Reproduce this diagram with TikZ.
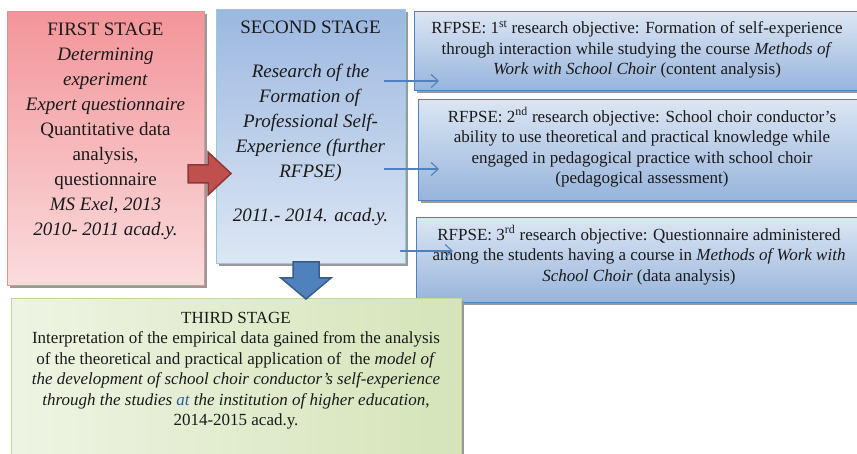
\documentclass[tikz,border=0pt]{standalone}
\usepackage{fontspec}
\setmainfont{Liberation Serif}
\usetikzlibrary{shadows,arrows.meta}
\definecolor{pinktop}{HTML}{F3959A}
\definecolor{pinkbot}{HTML}{FADCDD}
\definecolor{pinkline}{HTML}{D99594}
\definecolor{bluetop}{HTML}{9CB8E0}
\definecolor{bluebot}{HTML}{DDE7F4}
\definecolor{cyanline}{HTML}{93CDDD}
\definecolor{objtop}{HTML}{DCE6F3}
\definecolor{objbot}{HTML}{97B4DC}
\definecolor{objline}{HTML}{4F81BD}
\definecolor{greenleft}{HTML}{EEF4E3}
\definecolor{greenright}{HTML}{D5E4B9}
\definecolor{greenline}{HTML}{C3D69B}
\definecolor{arrowred}{HTML}{C0504D}
\definecolor{arrowreddark}{HTML}{8C3836}
\definecolor{arrowblue}{HTML}{4F81BD}
\definecolor{arrowbluedark}{HTML}{385D8A}
\definecolor{atblue}{HTML}{2E5C9A}
\definecolor{textgray}{HTML}{1A1A1A}

\begin{document}
\begin{tikzpicture}[x=1pt,y=-1pt,
    box/.style={anchor=north west,inner sep=0pt,line width=1.2pt,
      drop shadow={shadow xshift=2pt,shadow yshift=-2.5pt,fill=black!40,opacity=1}},
    wide/.style={font=\fontsize{19}{25}\selectfont,text=textgray,align=center,anchor=north,inner sep=0pt},
    narrow/.style={font=\fontsize{17}{20.5}\selectfont,text=textgray,align=center,anchor=north,inner sep=0pt},
    objarrow/.style={draw=arrowblue,line width=1.1pt,-{Straight Barb[length=7pt,width=13pt,line width=1.1pt]}}]
\useasboundingbox (0,0) rectangle (857,454);
\node[box,draw=pinkline,top color=pinktop,bottom color=pinkbot,minimum width=197pt,minimum height=274pt] (first) at (7,11) {};
\node[box,draw=cyanline,top color=bluetop,bottom color=bluebot,minimum width=189pt,minimum height=254pt] (second) at (216,9) {};
\node[box,draw=objline,top color=objtop,bottom color=objbot,minimum width=446pt,minimum height=79pt] (obj1) at (414,11) {};
\node[box,draw=objline,top color=objtop,bottom color=objbot,minimum width=447pt,minimum height=101pt] (obj2) at (418,99) {};
\node[box,draw=objline,top color=objtop,bottom color=objbot,minimum width=446pt,minimum height=85pt] (obj3) at (416,217) {};
\node[box,draw=greenline,left color=greenleft,right color=greenright,minimum width=450pt,minimum height=170pt] (third) at (11,298) {};

\node[wide] (firsttext) at (105.5,22.4) {FIRST STAGE\\ \textit{Determining}\\ \textit{experiment}\\ \textit{Expert questionnaire}\\ Quantitative data\\ analysis,\\ questionnaire\\ \textit{MS Exel, 2013}\\ \textit{2010- 2011 acad.y.}};
\node[wide] (secondtext) at (310.5,20.4) {SECOND STAGE\\[19pt] \textit{Research of the}\\ \textit{Formation of}\\ \textit{Professional Self-}\\ \textit{Experience (further}\\ \textit{RFPSE)}\\[19pt] \textit{2011.- 2014. acad.y.}};
\node[narrow] (obj1text) at (637,20.5) {RFPSE: 1\textsuperscript{st} research objective: Formation of self-experience\\ through interaction while studying the course \textit{Methods of}\\ \textit{Work with School Choir} (content analysis)};
\node[narrow] (obj2text) at (642,107.5) {RFPSE: 2\textsuperscript{nd} research objective: School choir conductor’s\\ ability to use theoretical and practical knowledge while\\ engaged in pedagogical practice with school choir\\ (pedagogical assessment)};
\node[narrow] (obj3text) at (639,225.5) {RFPSE: 3\textsuperscript{rd} research objective: Questionnaire administered\\ among the students having a course in \textit{Methods of Work with}\\ \textit{School Choir} (data analysis)};
\node[narrow] (thirdtext) at (236,311.7) {THIRD STAGE\\ Interpretation of the empirical data gained from the analysis\\ of the theoretical and practical application of\ \ the \textit{model of}\\ \textit{the development of school choir conductor’s self-experience}\\ \textit{through the studies \textcolor{atblue}{at} the institution of higher education},\\ 2014-2015 acad.y.};

\draw[fill=arrowred,draw=arrowreddark,line width=1.5pt,line join=miter] (188,165) -- (208,165) -- (208,152) -- (231,173.5) -- (208,195) -- (208,183) -- (188,183) -- cycle;
\draw[fill=arrowblue,draw=arrowbluedark,line width=1.5pt,line join=miter] (293,262) -- (319,262) -- (319,278) -- (331,278) -- (306,299) -- (281,278) -- (293,278) -- cycle;

\coordinate (s1) at (384,81);
\coordinate (s2) at (384,169);
\coordinate (s3) at (400,251);
\coordinate (o1) at (439,81);
\coordinate (o2) at (439,169);
\coordinate (o3) at (453,251);
\draw[objarrow] (s1) -- (o1);
\draw[objarrow] (s2) -- (o2);
\draw[objarrow] (s3) -- (o3);
\end{tikzpicture}
\end{document}
